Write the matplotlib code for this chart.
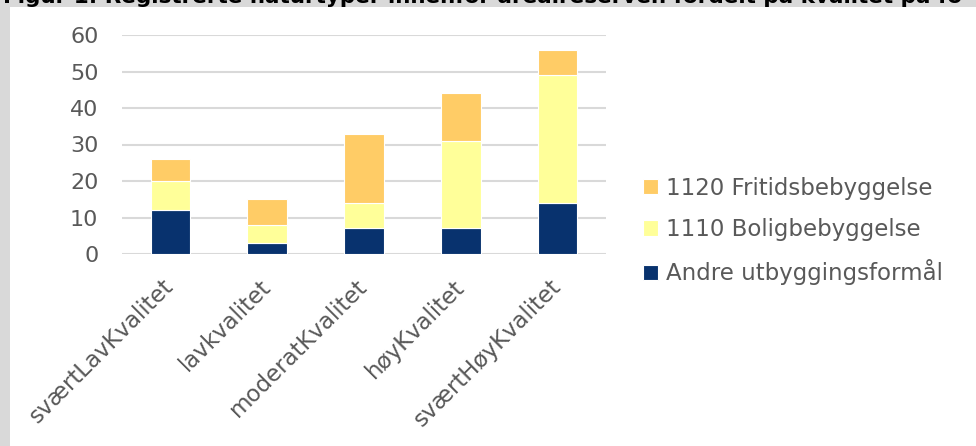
import matplotlib
matplotlib.use("Agg")
import matplotlib.pyplot as plt
import numpy as np
from matplotlib.patches import Rectangle

categories = ["sværtLavKvalitet", "lavkvalitet", "moderatKvalitet", "høyKvalitet", "sværtHøyKvalitet"]
andre = [12, 3, 7, 7, 14]
bolig = [8, 5, 7, 24, 35]
fritid = [6, 7, 19, 13, 7]

series_names = ["Andre utbyggingsformål", "1110 Boligbebyggelse", "1120 Fritidsbebyggelse"]
colors = ["#08326E", "#FFFF99", "#FFCC66"]
title = "Figur 1: Registrerte naturtyper innenfor arealreserven fordelt på kvalitet på fo"

text_color = "#595959"
grid_color = "#D9D9D9"

fig = plt.figure(figsize=(9.76, 4.46), dpi=100)
fig.patch.set_facecolor("#D9D9D9")
# white chart area inside the grey frame
fig.patches.append(Rectangle((10 / 976, 0), 1, 1 - 7 / 446, transform=fig.transFigure,
                             facecolor="white", edgecolor="none", zorder=-5))
fig.text(3 / 976, 1 - 3 / 446, title, fontsize=15.5, fontweight="bold", color="black",
         ha="left", va="baseline")

ax = fig.add_axes([122 / 976, 1 - 254 / 446, 484 / 976, 219 / 446])
ax.set_facecolor("none")

x = np.arange(len(categories))
bottom = np.zeros(len(categories))
handles = []
for vals, name, c in zip([andre, bolig, fritid], series_names, colors):
    h = ax.bar(x, vals, 0.41, bottom=bottom, color=c, edgecolor="white", linewidth=0.8,
               label=name, zorder=3)
    handles.append(h)
    bottom += np.array(vals)

ax.set_xlim(-0.5, len(categories) - 0.5)
ax.set_ylim(0, 60)
ax.set_yticks(range(0, 61, 10))
ax.yaxis.grid(True, color=grid_color, linewidth=1.5, zorder=0)
ax.set_axisbelow(True)
for s in ax.spines.values():
    s.set_visible(False)
ax.tick_params(axis="both", length=0, labelsize=16, labelcolor=text_color)
ax.tick_params(axis="y", pad=17)
ax.tick_params(axis="x", pad=21, labelsize=16.5)
ax.set_xticks(x)
ax.set_xticklabels(categories, rotation=45, ha="right", va="center", rotation_mode="anchor")

fig.legend(handles[::-1], series_names[::-1], loc="center left",
           bbox_to_anchor=(643 / 976, 1 - 231 / 446), frameon=False, fontsize=16.5,
           labelcolor=text_color, handlelength=0.65, handleheight=0.65, handletextpad=0.35,
           labelspacing=0.8, borderpad=0, borderaxespad=0)

fig.savefig("out.png", dpi=100, facecolor=fig.get_facecolor())
